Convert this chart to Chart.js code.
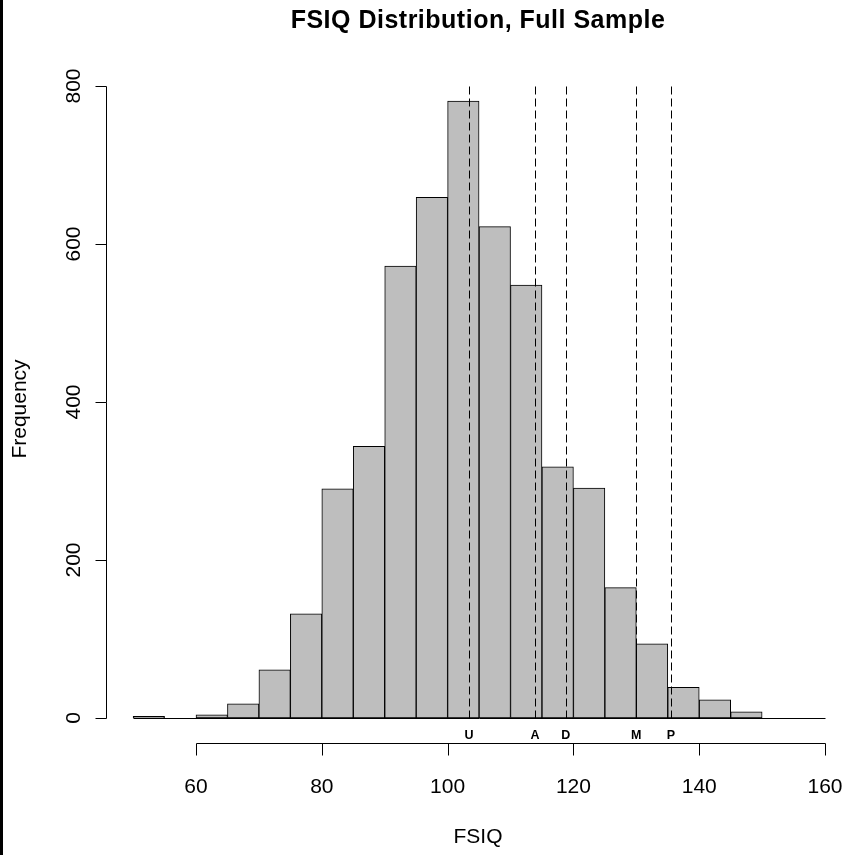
<!DOCTYPE html>
<html>
<head>
<meta charset="utf-8">
<title>FSIQ Distribution, Full Sample</title>
<script src="https://cdn.jsdelivr.net/npm/chart.js@4.4.1/dist/chart.umd.min.js"></script>
<style>
  html, body { margin:0; padding:0; background:#fff; overflow:hidden; }
  canvas { display:block; }
</style>
</head>
<body>
<canvas id="hist" width="850" height="855"></canvas>
<script>
// histogram bins (left edges, width 5) and counts
const binStart = [50,55,60,65,70,75,80,85,90,95,100,105,110,115,120,125,130,135,140,145,150,155];
const counts   = [2, 0, 4, 18, 61, 132, 290, 344, 572, 659, 781, 622, 548, 318, 291, 165, 94, 39, 23, 8, 0, 0];
const binWidth = 5;

// reference lines and their letters
const refLabels = ['U','A','D','M','P'];
const refValues = [103.4, 113.9, 118.8, 130.0, 135.5];

// axis ticks
const xTicks = [60, 80, 100, 120, 140, 160];
const yTicks = [0, 200, 400, 600, 800];

const FONT = "'Liberation Sans', Arial, sans-serif";

const rAxes = {
  id:'rAxes',
  afterDatasetsDraw(chart) {
    const {ctx, chartArea:a, scales:{x, y}} = chart;
    ctx.save();
    ctx.strokeStyle = '#000'; ctx.fillStyle = '#000'; ctx.lineWidth = 1;
    const px = v => Math.round(x.getPixelForValue(v)) + 0.5;
    const py = v => Math.round(y.getPixelForValue(v)) + 0.5;

    // zero-height bins still show as a line along the bottom
    ctx.beginPath();
    ctx.moveTo(px(binStart[0]), py(0));
    ctx.lineTo(px(binStart[binStart.length-1] + binWidth), py(0));
    ctx.stroke();

    // dashed reference lines
    ctx.setLineDash([8,4]);
    refValues.forEach(v => {
      ctx.beginPath();
      ctx.moveTo(px(v), py(0));
      ctx.lineTo(px(v), py(803));
      ctx.stroke();
    });
    ctx.setLineDash([]);

    ctx.font = 'bold 12.5px ' + FONT;
    ctx.textAlign = 'center'; ctx.textBaseline = 'alphabetic';
    refLabels.forEach((t, i) => ctx.fillText(t, x.getPixelForValue(refValues[i]), 739));

    // x axis, R style: line spans first..last tick, ticks point out
    const xb = Math.round(a.bottom) + 0.5;
    ctx.beginPath();
    ctx.moveTo(px(xTicks[0]), xb); ctx.lineTo(px(xTicks[xTicks.length-1]), xb);
    xTicks.forEach(t => { ctx.moveTo(px(t), xb); ctx.lineTo(px(t), xb + 12); });
    ctx.stroke();
    ctx.font = '21px ' + FONT;
    xTicks.forEach(t => ctx.fillText(String(t), x.getPixelForValue(t), 793));
    ctx.fillText('FSIQ', (a.left + a.right) / 2, 843);

    // y axis
    const yl = Math.round(a.left) + 0.5;
    ctx.beginPath();
    ctx.moveTo(yl, py(yTicks[0])); ctx.lineTo(yl, py(yTicks[yTicks.length-1]));
    yTicks.forEach(t => { ctx.moveTo(yl, py(t)); ctx.lineTo(yl - 11, py(t)); });
    ctx.stroke();
    yTicks.forEach(t => {
      ctx.save();
      ctx.translate(80, y.getPixelForValue(t));
      ctx.rotate(-Math.PI/2);
      ctx.fillText(String(t), 0, 0);
      ctx.restore();
    });
    ctx.save();
    ctx.translate(26, (a.top + a.bottom) / 2);
    ctx.rotate(-Math.PI/2);
    ctx.fillText('Frequency', 0, 0);
    ctx.restore();

    // title
    ctx.font = 'bold 25px ' + FONT;
    if ('letterSpacing' in ctx) ctx.letterSpacing = '0.5px';
    ctx.fillText('FSIQ Distribution, Full Sample', (a.left + a.right) / 2, 28);
    if ('letterSpacing' in ctx) ctx.letterSpacing = '0px';

    // dark strip on the left edge of the picture
    ctx.fillRect(0, 0, 3, chart.height);
    ctx.restore();
  }
};

new Chart(document.getElementById('hist'), {
  type:'bar',
  data:{
    datasets:[{
      data: binStart.map((b, i) => ({ x: b + binWidth/2, y: counts[i] })),
      backgroundColor:'#bebebe',
      borderColor:'#000',
      borderWidth:1,
      borderSkipped:false,
      barPercentage:1,
      categoryPercentage:1
    }]
  },
  options:{
    responsive:false,
    devicePixelRatio:1,
    animation:false,
    layout:{ padding:{ left:106, top:75, right:0, bottom:112 } },
    plugins:{ legend:{display:false}, tooltip:{enabled:false}, title:{display:false} },
    scales:{
      x:{ type:'linear', display:false, offset:false, min:45.69, max:163.97 },
      y:{ display:false, min:-31.6, max:813.9 }
    }
  },
  plugins:[rAxes]
});
</script>
</body>
</html>
